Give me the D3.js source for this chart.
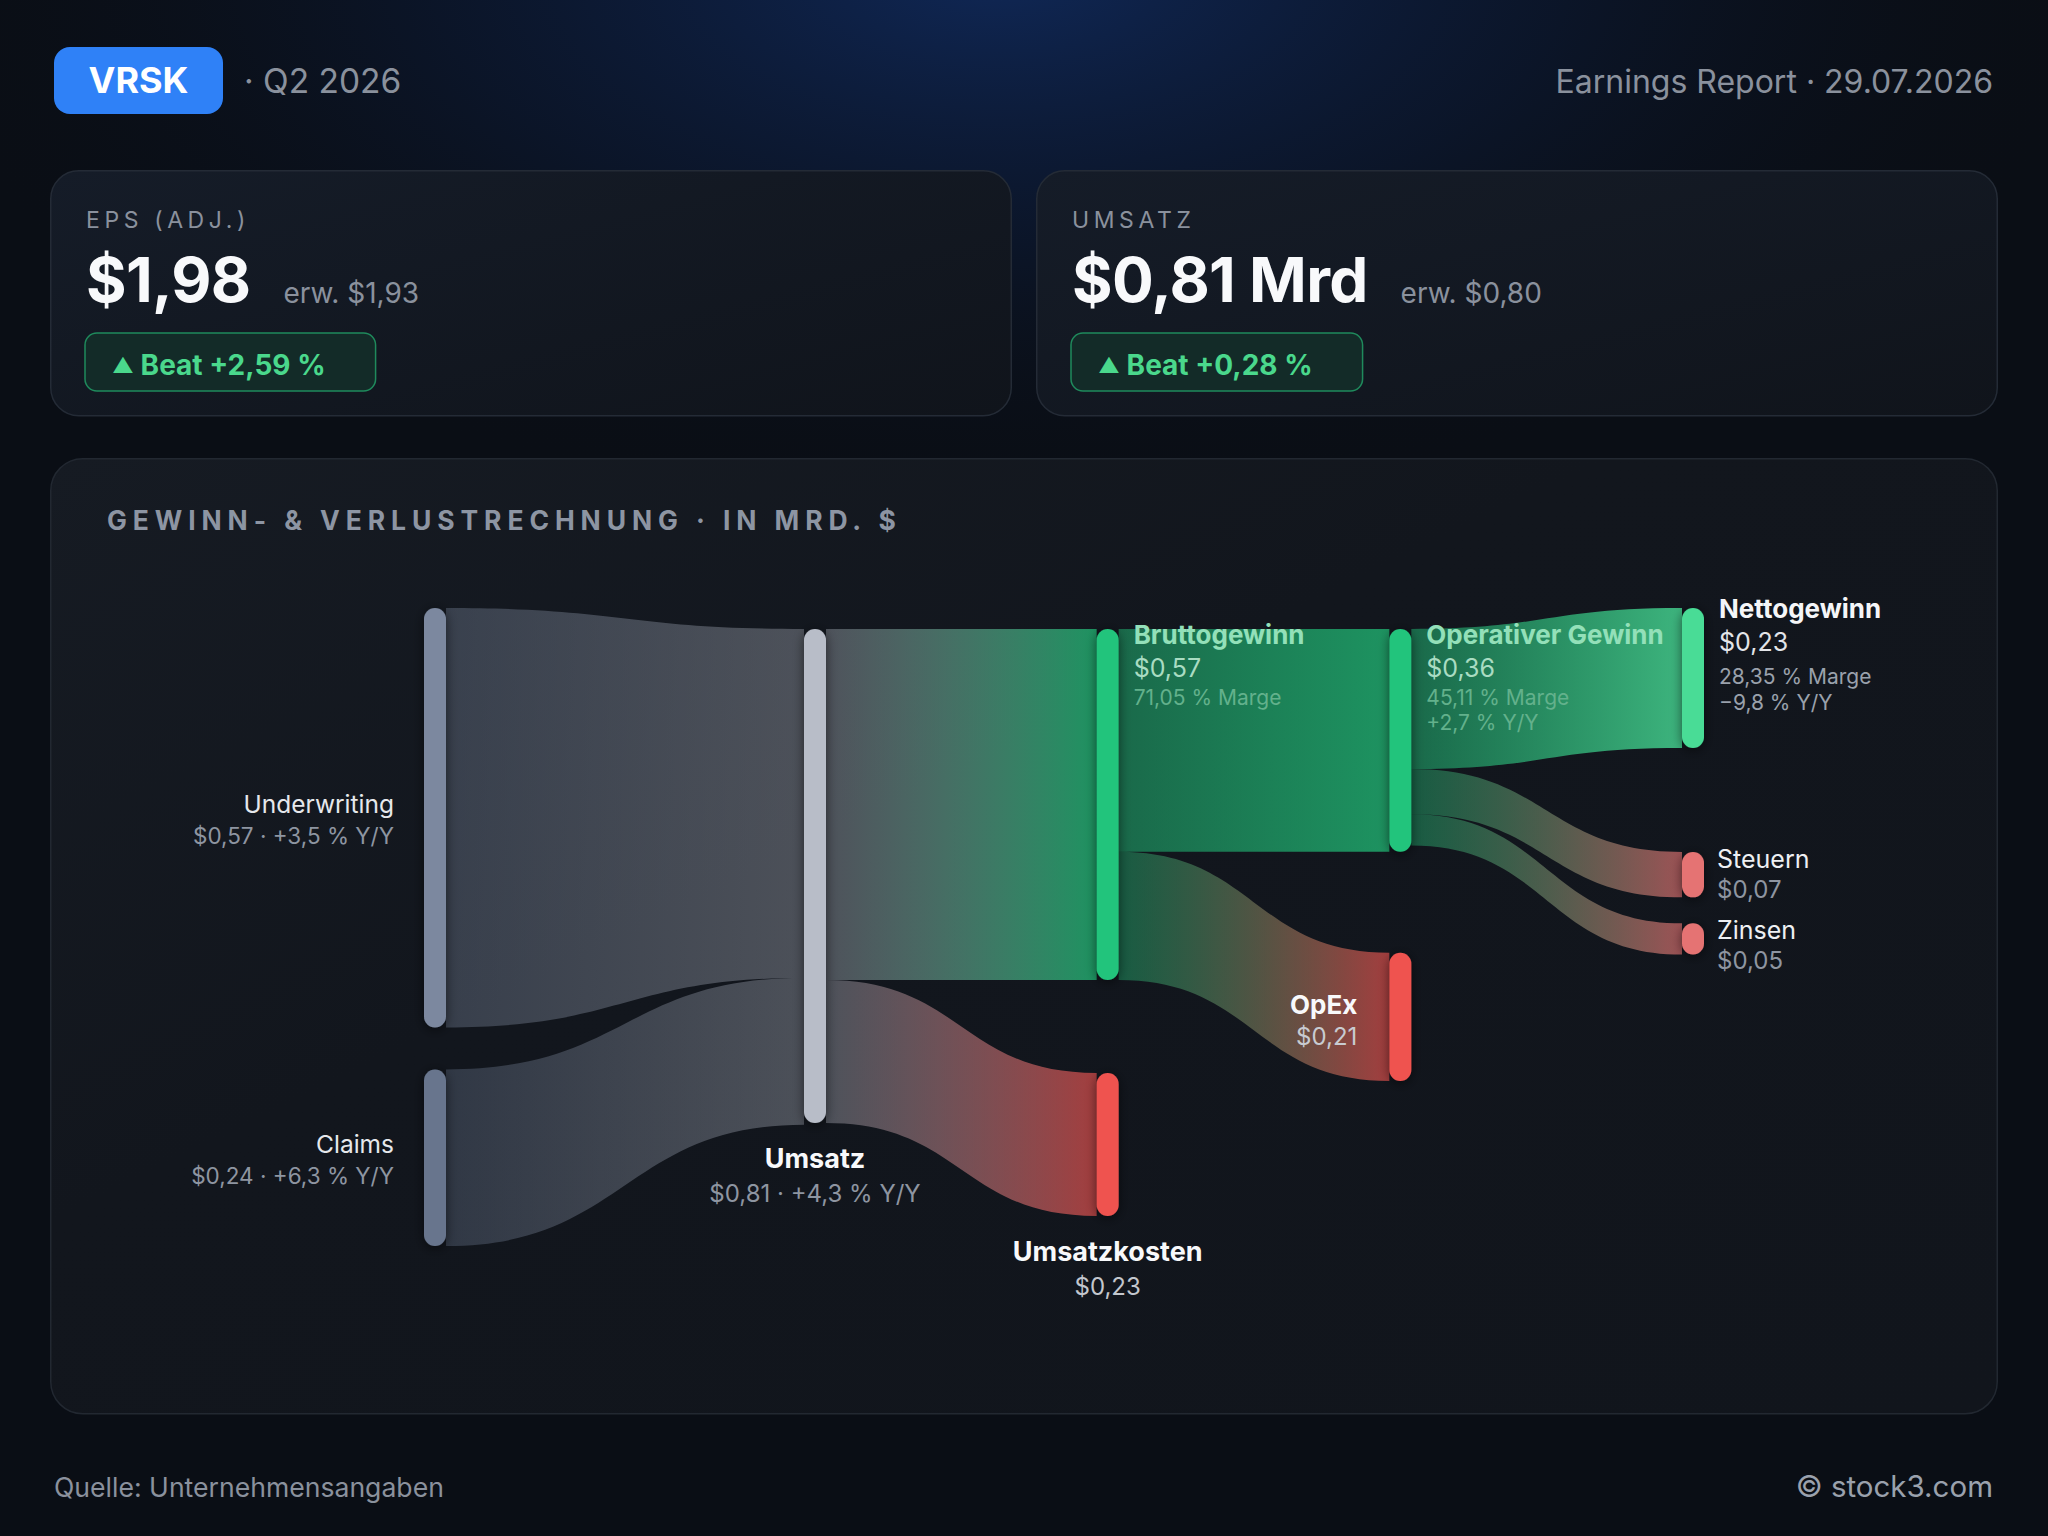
<!DOCTYPE html>
<html>
<head>
<meta charset="utf-8">
<script src="https://cdn.jsdelivr.net/npm/d3@7"></script>
<style>
  html, body { margin: 0; padding: 0; background: #0a0e15; }
  svg { display: block; font-family: Inter, "Noto Sans", "DejaVu Sans", sans-serif; }
</style>
</head>
<body>
<svg id="chart" width="2048" height="1536"></svg>
<script>
// ---------------- DATA ----------------
const ticker = "VRSK";
const period = "Q2 2026";
const reportLabel = "Earnings Report · 29.07.2026";

const kpiLabels = ["EPS (ADJ.)", "UMSATZ"];
const kpiActual = [1.98, 0.81];
const kpiEstimate = [1.93, 0.80];
const kpiSurprise = [2.59, 0.28];
const kpiUnit = ["", " Mrd"];

const panelTitle = "GEWINN- & VERLUSTRECHNUNG · IN MRD. $";

const nodeNames = ["Underwriting", "Claims", "Umsatz", "Bruttogewinn", "Umsatzkosten",
                   "Operativer Gewinn", "OpEx", "Nettogewinn", "Steuern", "Zinsen"];
const nodeColumn = [0, 0, 1, 2, 2, 3, 3, 4, 4, 4];
const nodeValues = [0.57, 0.24, 0.807, 0.5734, 0.2336, 0.364, 0.2093, 0.2288, 0.074, 0.051];
const nodeMargin = [null, null, null, 71.05, null, 45.11, null, 28.35, null, null];
const nodeYoY    = [3.5, 6.3, 4.3, null, null, 2.7, null, -9.8, null, null];

const linkSource = [0, 1, 2, 2, 3, 3, 5, 5, 5];
const linkTarget = [2, 2, 3, 4, 5, 6, 7, 8, 9];
const linkValue  = [0.57, 0.24, 0.5734, 0.2336, 0.364, 0.2093, 0.2288, 0.074, 0.051];

const sourceNote = "Quelle: Unternehmensangaben";
const brandNote = "© stock3.com";

// ---------------- STYLE / LAYOUT ----------------
const nodeKind  = ["segment", "segment", "revenue", "profit", "cost", "profit", "cost", "net", "expense", "expense"];
const nodeColor = ["#7b889f", "#67758d", "#b8bdc8", "#22c47b", "#ef5350", "#22c47b", "#ef5350", "#48dc96", "#e57373", "#e57373"];
const labelStyle = ["left", "left", "below", "rightTop", "below", "rightTop", "leftBold", "rightTop", "rightMid", "rightMid"];
const alphaOut = { segment: 0.36, revenue: 0.36, profit: 0.48 };
const alphaIn  = { revenue: 0.35, profit: 0.72, cost: 0.66, net: 0.8, expense: 0.66 };

const W = 2048, H = 1536;
const locale = d3.formatLocale({ decimal: ",", thousands: ".", grouping: [3], currency: ["$", ""] });
const f2 = locale.format(".2f");
const fYoY = locale.format("+.1f");
const fBeat = locale.format("+.2f");
const money = v => "$" + f2(v);

const svg = d3.select("#chart");
const defs = svg.append("defs");

// Background
const glow = defs.append("radialGradient").attr("id", "bgGlow")
  .attr("gradientUnits", "userSpaceOnUse").attr("cx", 0).attr("cy", 0).attr("r", 1)
  .attr("gradientTransform", "translate(1000,-30) scale(1120,540)");
glow.append("stop").attr("offset", 0).attr("stop-color", "#10295a").attr("stop-opacity", 0.95);
glow.append("stop").attr("offset", 0.5).attr("stop-color", "#0c1a36").attr("stop-opacity", 0.6);
glow.append("stop").attr("offset", 1).attr("stop-color", "#0a0e15").attr("stop-opacity", 0);
svg.append("rect").attr("width", W).attr("height", H).attr("fill", "#0a0e15");
svg.append("rect").attr("width", W).attr("height", H).attr("fill", "url(#bgGlow)");

const cardFill = defs.append("linearGradient").attr("id", "cardFill")
  .attr("x1", 0).attr("y1", 0).attr("x2", 1).attr("y2", 1);
cardFill.append("stop").attr("offset", 0).attr("stop-color", "#151c28");
cardFill.append("stop").attr("offset", 1).attr("stop-color", "#10141b");

const panelFill = defs.append("linearGradient").attr("id", "panelFill")
  .attr("x1", 0).attr("y1", 0).attr("x2", 1).attr("y2", 1);
panelFill.append("stop").attr("offset", 0).attr("stop-color", "#161b23");
panelFill.append("stop").attr("offset", 0.4).attr("stop-color", "#12161d");
panelFill.append("stop").attr("offset", 1).attr("stop-color", "#11151c");

const shadow = defs.append("filter").attr("id", "nodeShadow")
  .attr("x", -1).attr("y", -0.3).attr("width", 3).attr("height", 1.6);
shadow.append("feDropShadow").attr("dx", 0).attr("dy", 2).attr("stdDeviation", 6)
  .attr("flood-color", "#000").attr("flood-opacity", 0.55);

// ---------------- HEADER ----------------
const header = svg.append("g");
header.append("rect").attr("x", 54).attr("y", 47).attr("width", 169).attr("height", 67)
  .attr("rx", 16).attr("fill", "#2f81f7");
header.append("text").attr("x", 138.5).attr("y", 93).attr("text-anchor", "middle")
  .attr("font-size", 36).attr("font-weight", 700).attr("fill", "#ffffff").text(ticker);
header.append("text").attr("x", 244).attr("y", 93).attr("font-size", 33.5)
  .attr("fill", "#8a919d").text("· " + period);
header.append("text").attr("x", 1993).attr("y", 93).attr("text-anchor", "end")
  .attr("font-size", 32).attr("fill", "#8a919d").text(reportLabel);

// ---------------- KPI CARDS ----------------
const cardW = 962, cardGap = 24;
kpiLabels.forEach((lab, i) => {
  const x = 50 + i * (cardW + cardGap);
  const g = svg.append("g").attr("transform", `translate(${x},170)`);
  g.append("rect").attr("x", 0.75).attr("y", 0.75).attr("width", cardW - 1.5).attr("height", 245)
    .attr("rx", 28).attr("fill", "url(#cardFill)").attr("stroke", "#242b36").attr("stroke-width", 1.5);
  g.append("text").attr("x", 36).attr("y", 58).attr("font-size", 23).attr("letter-spacing", 4.6)
    .attr("fill", "#8a919d").text(lab);
  const big = g.append("text").attr("x", 36).attr("y", 132).attr("font-size", 62)
    .attr("font-weight", 700).attr("fill", "#f8f9fb").attr("letter-spacing", -0.7)
    .text(money(kpiActual[i]) + kpiUnit[i]);
  const bw = big.node().getComputedTextLength();
  g.append("text").attr("x", 36 + bw + 33).attr("y", 133).attr("font-size", 28)
    .attr("fill", "#8a919d").text("erw. " + money(kpiEstimate[i]));
  const badge = g.append("g").attr("transform", "translate(35,163)");
  const br = badge.append("rect").attr("height", 58).attr("rx", 12)
    .attr("fill", "#132b28").attr("stroke", "#1f8a5c").attr("stroke-width", 1.5);
  const bt = badge.append("text").attr("x", 27).attr("y", 42).attr("font-size", 28)
    .attr("font-weight", 700).attr("fill", "#4ad88c");
  bt.append("tspan").attr("font-size", 21).attr("dy", -2).text("▲");
  bt.append("tspan").attr("dy", 2).text(" Beat " + fBeat(kpiSurprise[i]) + " %");
  const tw = bt.node().getComputedTextLength();
  br.attr("width", tw + 77);
});

// ---------------- PANEL ----------------
svg.append("rect").attr("x", 50.75).attr("y", 458.75).attr("width", 1946.5).attr("height", 955)
  .attr("rx", 32).attr("fill", "url(#panelFill)").attr("stroke", "#222831").attr("stroke-width", 1.5);
svg.append("text").attr("x", 107).attr("y", 530).attr("font-size", 26.5).attr("font-weight", 700)
  .attr("letter-spacing", 5.9).attr("fill", "#8d95a3").text(panelTitle);

// ---------------- SANKEY ----------------
const colX = d3.scaleLinear().domain([1, 4]).range([804, 1682]);
const firstColumnOffset = 380;
const nodeW = 22;
const chartTop = 608;
const colTopOffset = [0, 21, 21, 21, 0];
const gapBefore = [0, 42, 0, 0, 93, 0, 101, 0, 104, 26];

const ky  = d3.scaleLinear().domain([0, nodeValues[2]]).range([0, 494]);
const col0Total = d3.sum(nodeValues.filter((v, i) => nodeColumn[i] === 0));
const ky0 = d3.scaleLinear().domain([0, col0Total]).range([0, 596]);
const scaleFor = c => (c === 0 ? ky0 : ky);

const nodes = nodeNames.map((name, i) => ({ i, name, col: nodeColumn[i], value: nodeValues[i],
  kind: nodeKind[i], color: nodeColor[i] }));
const cursor = {};
nodes.forEach(n => {
  n.h = scaleFor(n.col)(n.value);
  const start = cursor[n.col] !== undefined ? cursor[n.col] : chartTop + colTopOffset[n.col];
  n.y0 = start + gapBefore[n.i];
  n.y1 = n.y0 + n.h;
  cursor[n.col] = n.y1;
  n.x0 = n.col === 0 ? colX(1) - firstColumnOffset : colX(n.col);
  n.x1 = n.x0 + nodeW;
  n.outOff = n.y0; n.inOff = n.y0;
  n.hasOut = linkSource.includes(n.i);
});

const links = linkSource.map((s, k) => {
  const S = nodes[s], T = nodes[linkTarget[k]], v = linkValue[k];
  const ws = scaleFor(S.col)(v), wt = scaleFor(T.col)(v);
  const l = { k, S, T, v, sy0: S.outOff, sy1: S.outOff + ws, ty0: T.inOff, ty1: T.inOff + wt };
  S.outOff += ws; T.inOff += wt;
  return l;
});

function ribbon(l) {
  const x0 = l.S.x1, x1 = l.T.x0, xm = (x0 + x1) / 2;
  const p = d3.path();
  p.moveTo(x0, l.sy0);
  p.bezierCurveTo(xm, l.sy0, xm, l.ty0, x1, l.ty0);
  p.lineTo(x1, l.ty1);
  p.bezierCurveTo(xm, l.ty1, xm, l.sy1, x0, l.sy1);
  p.closePath();
  return p.toString();
}

links.forEach(l => {
  const g = defs.append("linearGradient").attr("id", "lg" + l.k)
    .attr("gradientUnits", "userSpaceOnUse")
    .attr("x1", l.S.x1).attr("y1", 0).attr("x2", l.T.x0).attr("y2", 0);
  let a0 = alphaOut[l.S.kind];
  if ((l.T.kind === "cost" || l.T.kind === "expense") && l.S.kind === "profit") a0 = 0.4;
  const a1 = alphaIn[l.T.kind];
  g.append("stop").attr("offset", 0).attr("stop-color", l.S.color).attr("stop-opacity", a0);
  g.append("stop").attr("offset", 1).attr("stop-color", l.T.color).attr("stop-opacity", a1);
});

const sankey = svg.append("g");
sankey.append("g").selectAll("path").data(links).join("path")
  .attr("d", ribbon).attr("fill", d => `url(#lg${d.k})`);

sankey.append("g").selectAll("rect").data(nodes).join("rect")
  .attr("x", d => d.x0).attr("y", d => d.y0).attr("width", nodeW).attr("height", d => d.h)
  .attr("rx", nodeW / 2).attr("fill", d => d.color).attr("filter", "url(#nodeShadow)");

// ---------------- LABELS ----------------
const lab = svg.append("g");
function txt(x, y, s, size, color, weight, anchor) {
  return lab.append("text").attr("x", x).attr("y", y).attr("font-size", size)
    .attr("font-weight", weight || 400).attr("fill", color).attr("text-anchor", anchor || "start").text(s);
}
let prevMidValueBaseline = -Infinity;
nodes.forEach(n => {
  const yc = (n.y0 + n.y1) / 2, xc = (n.x0 + n.x1) / 2;
  const v = money(n.value);
  const yoy = nodeYoY[n.i] !== null ? fYoY(nodeYoY[n.i]) + " % Y/Y" : null;
  const mar = nodeMargin[n.i] !== null ? f2(nodeMargin[n.i]) + " % Marge" : null;
  const st = labelStyle[n.i];
  if (st === "left") {
    txt(n.x0 - 30, yc - 5, n.name, 24.5, "#e6e8ec", 400, "end");
    txt(n.x0 - 30, yc + 26, v + " · " + yoy, 22.5, "#8e95a1", 400, "end");
  } else if (st === "below") {
    txt(xc, n.y1 + 45, n.name, 27, "#f8f9fb", 700, "middle");
    txt(xc, n.y1 + 79, yoy ? v + " · " + yoy : v, 24, yoy ? "#8e95a1" : "#c3c7ce", 400, "middle");
  } else if (st === "rightTop") {
    const inside = n.hasOut;
    const c1 = inside ? "#93e0b9" : "#f5f6f8";
    const c2 = inside ? "#a9dcc2" : "#e3e5e9";
    const c3 = inside ? "#63b18c" : "#9aa1ac";
    const off = inside ? [15, 48, 76, 25] : [10, 43, 76, 26];
    const x = n.x1 + 15;
    txt(x, n.y0 + off[0], n.name, 26, c1, 700);
    txt(x, n.y0 + off[1], v, 25, c2, 400);
    const subs = [mar, yoy].filter(s => s);
    subs.forEach((s, j) => txt(x, n.y0 + off[2] + j * off[3], s, 21, c3, 400));
  } else if (st === "leftBold") {
    txt(n.x0 - 32, yc - 3, n.name, 26, "#f8f9fb", 700, "end");
    txt(n.x0 - 32, yc + 28, v, 24, "#c8cbd1", 400, "end");
  } else if (st === "rightMid") {
    let b1 = yc - 7;
    if (b1 < prevMidValueBaseline + 41) b1 = prevMidValueBaseline + 41;
    txt(n.x1 + 13, b1, n.name, 25, "#eef0f3", 400);
    txt(n.x1 + 13, b1 + 30, v, 24, "#8e95a1", 400);
    prevMidValueBaseline = b1 + 30;
  }
});

// ---------------- FOOTER ----------------
svg.append("text").attr("x", 54).attr("y", 1497).attr("font-size", 26.6).attr("fill", "#8a919d").text(sourceNote);
svg.append("text").attr("x", 1993).attr("y", 1497).attr("font-size", 29.5).attr("text-anchor", "end")
  .attr("fill", "#9aa1ad").text(brandNote);
</script>
</body>
</html>
